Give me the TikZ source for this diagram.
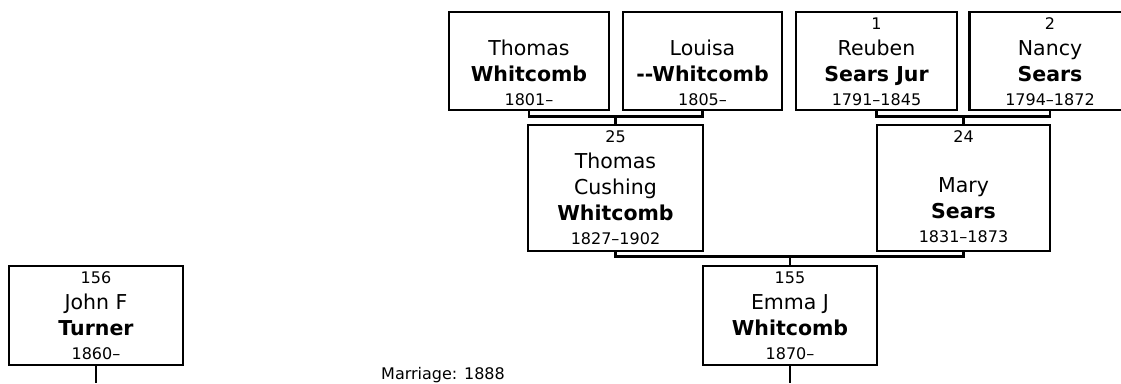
\documentclass[tikz,border=0pt]{standalone}
\usepackage{fontspec}
\setmainfont{DejaVu Sans}
\usetikzlibrary{positioning}
\newcommand{\nameline}{\fontsize{20.5}{26}\selectfont}
\newcommand{\smallline}{\fontsize{16}{24}\selectfont}
% card: width, height, number, names, dates
\newcommand{\card}[5]{\parbox[c][#2][t]{#1}{\centering
  {\smallline\rule{0pt}{17pt}#3\par}\vfill
  {\nameline #4\par}
  {\smallline\rule[-9pt]{0pt}{9pt}#5\par}}}

\begin{document}
\begin{tikzpicture}[x=1pt,y=-1pt]
      \tikzstyle{person}=[draw,line width=2.6pt,inner sep=0pt]
      \tikzstyle{link}=[line width=2.6pt]
      \useasboundingbox (0,0) rectangle (1121,383);
      \clip (0,0) rectangle (1121,383);
      \coordinate (edge) at (0,383);
      % grandparents
      \node[person] (thomas) at (529,61) {\card{160pt}{98pt}{}{Thomas\\\textbf{Whitcomb}}{1801–}};
      \node[person] (louisa) at (702.5,61) {\card{159pt}{98pt}{}{Louisa\\\textbf{-{}-Whitcomb}}{1805–}};
      \node[person] (reuben) at (876.5,61) {\card{161pt}{98pt}{1}{Reuben\\\textbf{Sears Jur}}{1791–1845}};
      \node[person] (nancy) at (1050,61) {\card{161pt}{98pt}{2}{Nancy\\\textbf{Sears}}{1794–1872}};
      % parents
      \node[person] (tcw) at (615.5,188) {\card{175pt}{126pt}{25}{Thomas\\Cushing\\\textbf{Whitcomb}}{1827–1902}};
      \node[person] (mary) at (963.5,188) {\card{173pt}{126pt}{24}{Mary\\\textbf{Sears}}{1831–1873}};
      % couple
      \node[person] (emma) at (790,315.5) {\card{174pt}{99pt}{155}{Emma J\\\textbf{Whitcomb}}{1870–}};
      \node[person] (john) at (96,315.5) {\card{174pt}{99pt}{156}{John F\\\textbf{Turner}}{1860–}};
      \node[font=\fontsize{16}{19}\selectfont,anchor=base] (marriage) at (443,379) {Marriage: 1888};
      \draw[link] (thomas.south) |- ([yshift=7pt]tcw.north) -| (louisa.south);
      \draw[link] ([yshift=7pt]tcw.north) -- (tcw.north);
      \draw[link] (reuben.south) |- ([yshift=7pt]mary.north) -| (nancy.south);
      \draw[link] ([yshift=7pt]mary.north) -- (mary.north);
      \draw[link] (tcw.south) |- ([yshift=8pt]emma.north) -| (mary.south);
      \draw[link] ([yshift=8pt]emma.north) -- (emma.north);
      \draw[link] (emma.south) -- (emma.south |- edge);
      \draw[link] (john.south) -- (john.south |- edge);
    \end{tikzpicture}
\end{document}
